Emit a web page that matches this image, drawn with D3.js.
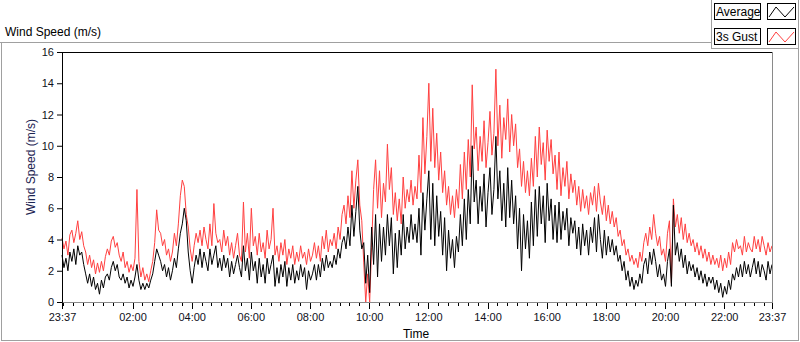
<!DOCTYPE html>
<html>
<head>
<meta charset="utf-8">
<script src="https://cdn.jsdelivr.net/npm/d3@7"></script>
<style>
  body { margin: 0; background: #fff; }
  svg { display: block; font-family: "Liberation Sans", Arial, sans-serif; }
</style>
</head>
<body>
<svg id="chart" width="800" height="342"></svg>
<script>
// samples every 4 minutes from 23:37 to 23:37 next day
const startTime = new Date(2020, 0, 1, 23, 37)
const stepMinutes = 4

const gust = [
  4.1, 3.4, 3.9, 3.0, 4.3, 4.6, 3.8, 4.4, 5.2, 4.0,
  4.5, 3.6, 3.2, 2.4, 3.0, 2.2, 2.7, 1.8, 2.5, 1.9,
  2.6, 2.0, 2.9, 3.4, 3.0, 3.9, 4.2, 3.5, 3.8, 3.0,
  2.6, 3.2, 2.2, 2.6, 1.9, 2.4, 2.0, 2.8, 7.2, 2.6,
  1.6, 2.2, 1.4, 1.8, 1.3, 2.0, 2.6, 3.8, 5.9, 4.6,
  4.4, 3.6, 4.0, 3.0, 3.4, 2.6, 3.2, 4.4, 3.6, 5.0,
  6.8, 7.8, 7.4, 5.6, 4.8, 3.4, 2.6, 3.6, 4.4, 3.8,
  4.6, 3.6, 4.8, 4.0, 3.4, 5.0, 3.6, 6.3, 4.4, 3.8,
  4.0, 3.2, 4.6, 3.6, 4.2, 3.0, 3.8, 2.8, 3.6, 4.4,
  3.0, 2.6, 6.4, 3.2, 4.4, 2.8, 6.0, 3.6, 4.2, 3.0,
  4.4, 3.2, 3.8, 2.8, 4.6, 3.4, 4.0, 6.0, 3.0, 3.6,
  2.6, 3.8, 3.0, 4.0, 2.4, 3.4, 2.8, 3.6, 2.4, 3.2,
  2.6, 3.6, 2.8, 3.2, 2.4, 3.4, 2.6, 3.0, 3.8, 2.8,
  3.6, 2.6, 4.2, 3.4, 4.6, 3.2, 4.0, 3.6, 4.4, 3.4,
  4.8, 4.0, 5.6, 6.2, 5.0, 6.8, 5.4, 8.4, 6.0, 7.8,
  9.1, 6.2, 5.2, 2.5, 0.0, 1.8, 0.0, 3.5, 7.2, 9.1,
  6.0, 8.4, 5.4, 7.6, 6.4, 10.1, 7.2, 8.6, 5.6, 7.0,
  5.2, 6.6, 5.0, 8.0, 6.0, 7.2, 6.4, 7.8, 6.2, 7.4,
  6.6, 9.4, 7.0, 11.8, 8.2, 10.6, 14.0, 9.0, 12.4, 8.6,
  10.8, 7.8, 9.6, 7.0, 8.4, 6.2, 7.4, 5.6, 6.8, 5.4,
  7.2, 6.0, 8.8, 6.6, 9.6, 7.2, 10.4, 8.0, 13.9, 9.8,
  11.2, 8.4, 10.6, 9.0, 11.6, 8.6, 10.2, 12.2, 9.4, 10.8,
  14.9, 10.0, 12.6, 9.2, 11.8, 10.4, 13.0, 9.6, 12.0, 10.0,
  11.4, 8.6, 9.8, 7.4, 9.0, 7.0, 8.4, 6.8, 9.2, 7.4,
  10.6, 8.0, 11.2, 8.8, 10.2, 7.8, 11.0, 9.0, 10.4, 8.2,
  9.4, 7.2, 9.6, 6.8, 8.6, 7.4, 9.0, 6.6, 8.2, 7.0,
  7.8, 6.2, 7.4, 5.8, 7.2, 6.0, 6.8, 5.6, 7.0, 6.2,
  7.4, 5.8, 7.6, 6.4, 5.6, 6.8, 5.2, 6.2, 5.0, 5.8,
  4.8, 5.4, 4.2, 4.6, 3.6, 4.0, 3.0, 3.4, 2.6, 3.0,
  2.4, 2.8, 2.2, 3.2, 2.6, 3.8, 4.4, 3.6, 4.8, 4.0,
  5.6, 4.4, 3.6, 4.2, 3.0, 3.4, 2.6, 4.4, 5.2, 1.2,
  6.6, 4.8, 5.6, 4.4, 5.4, 4.0, 5.0, 3.8, 4.4, 3.6,
  4.0, 3.2, 3.8, 3.0, 3.6, 2.8, 3.4, 2.6, 3.2, 2.4,
  3.0, 2.4, 2.8, 2.2, 3.0, 2.0, 2.8, 2.2, 3.2, 2.4,
  3.8, 3.2, 4.0, 3.4, 3.6, 3.0, 4.2, 3.2, 3.8, 3.4,
  3.2, 4.2, 3.4, 4.0, 3.2, 4.2, 3.6, 3.0, 3.8, 3.2,
  3.6
]

const average = [
  3.0, 2.2, 2.8, 2.0, 3.2, 2.6, 3.4, 2.4, 3.6, 3.0,
  3.2, 2.4, 1.8, 1.2, 1.8, 1.0, 1.6, 0.8, 1.2, 0.5,
  1.4, 0.9, 1.6, 1.8, 1.4, 2.2, 2.6, 2.0, 2.4, 1.6,
  1.4, 1.8, 1.2, 1.6, 0.9, 1.4, 1.0, 1.6, 2.4, 1.4,
  0.8, 1.2, 0.8, 1.2, 0.9, 1.4, 1.8, 2.6, 3.4, 3.0,
  2.6, 2.0, 2.4, 1.6, 2.2, 1.4, 2.0, 2.8, 2.2, 3.4,
  4.4, 5.0, 6.0, 5.2, 3.2, 2.0, 1.2, 2.2, 3.0, 2.4,
  3.4, 2.2, 3.2, 2.6, 2.0, 3.4, 2.4, 3.0, 3.6, 2.2,
  2.8, 2.0, 3.0, 2.2, 2.8, 1.6, 2.6, 1.8, 2.4, 3.0,
  2.2, 1.6, 3.6, 2.0, 2.8, 1.4, 3.2, 2.0, 2.6, 1.2,
  2.8, 1.6, 2.4, 1.2, 2.8, 1.8, 2.4, 3.0, 1.0, 2.2,
  1.2, 2.4, 1.6, 2.6, 1.0, 2.2, 1.4, 2.4, 1.2, 2.0,
  1.4, 2.4, 1.6, 2.2, 0.8, 2.0, 1.4, 1.8, 2.4, 1.4,
  2.4, 1.6, 2.8, 2.0, 3.0, 2.2, 2.6, 2.2, 3.0, 2.4,
  3.4, 2.8, 3.8, 4.2, 3.4, 4.8, 3.6, 6.2, 4.2, 5.8,
  7.4, 4.6, 3.4, 3.8, 1.2, 3.0, 0.6, 4.8, 2.4, 5.6,
  1.6, 5.0, 2.6, 4.8, 3.0, 5.6, 3.6, 5.4, 1.8, 4.4,
  2.2, 4.6, 3.0, 5.6, 3.4, 4.8, 3.8, 5.6, 4.0, 5.0,
  3.8, 6.0, 3.0, 7.0, 4.6, 6.6, 8.4, 4.0, 7.6, 3.6,
  6.8, 4.2, 5.8, 3.0, 5.4, 2.0, 4.6, 2.8, 4.0, 2.2,
  4.2, 3.2, 5.6, 3.6, 6.6, 4.0, 7.2, 5.0, 10.0, 6.4,
  7.8, 5.0, 7.4, 5.8, 8.2, 4.8, 7.0, 8.6, 5.6, 7.2,
  10.6, 6.6, 8.4, 5.2, 7.6, 4.8, 8.6, 5.4, 7.8, 5.0,
  6.8, 3.4, 6.0, 2.0, 5.6, 3.4, 5.2, 2.8, 6.4, 3.6,
  7.2, 4.2, 7.4, 5.0, 6.8, 3.8, 7.6, 5.2, 6.6, 4.0,
  6.2, 3.8, 6.4, 4.0, 5.8, 4.6, 6.0, 3.6, 5.4, 4.4,
  5.2, 3.4, 4.8, 3.0, 5.0, 3.6, 4.6, 3.0, 4.8, 3.8,
  5.4, 3.2, 5.6, 4.0, 2.8, 4.6, 3.0, 4.2, 3.2, 4.0,
  3.0, 3.6, 2.6, 3.0, 2.0, 2.6, 1.4, 2.0, 1.0, 1.6,
  0.8, 1.4, 1.0, 1.8, 1.2, 2.4, 2.8, 1.8, 3.2, 2.4,
  3.4, 2.6, 1.6, 2.4, 1.4, 1.8, 1.0, 2.6, 3.4, 1.0,
  6.2, 3.0, 3.8, 2.6, 3.4, 2.2, 3.0, 1.8, 2.6, 2.0,
  2.4, 1.6, 2.2, 1.4, 2.0, 1.2, 1.8, 1.0, 1.6, 1.2,
  1.6, 0.8, 1.4, 0.6, 1.2, 0.3, 1.0, 0.5, 1.4, 0.8,
  1.8, 1.4, 2.2, 1.6, 2.4, 1.6, 2.6, 1.8, 2.4, 1.6,
  2.2, 2.8, 1.8, 2.6, 1.6, 2.4, 2.0, 1.4, 2.6, 1.8,
  2.4
]

const yTicks = [0, 2, 4, 6, 8, 10, 12, 14, 16]
const seriesNames = ["Average", "3s Gust"]
const seriesColors = ["#000000", "#ff4040"]

const svg = d3.select("#chart")
const plotLeft = 62, plotRight = 772, plotTop = 52, plotBottom = 302

const endTime = d3.timeMinute.offset(startTime, 24 * 60)
const times = gust.map((d, i) => d3.timeMinute.offset(startTime, i * stepMinutes))

const x = d3.scaleTime().domain([startTime, endTime]).range([plotLeft, plotRight])
const y = d3.scaleLinear().domain([0, 16]).range([plotBottom, plotTop])

// outer frame
const frame = svg.append("g").attr("stroke", "#a0a0a0").attr("shape-rendering", "crispEdges")
frame.append("line").attr("x1", 0).attr("x2", 712).attr("y1", 42.5).attr("y2", 42.5)
frame.append("line").attr("x1", 1.5).attr("x2", 1.5).attr("y1", 42).attr("y2", 341)
frame.append("line").attr("x1", 1).attr("x2", 798).attr("y1", 340.5).attr("y2", 340.5)
frame.append("line").attr("x1", 798.5).attr("x2", 798.5).attr("y1", 0).attr("y2", 341)
frame.append("line").attr("x1", 711.5).attr("x2", 711.5).attr("y1", 0).attr("y2", 49)
frame.append("line").attr("x1", 711).attr("x2", 799).attr("y1", 48.5).attr("y2", 48.5)

svg.append("text")
  .attr("x", 5).attr("y", 36)
  .attr("font-size", 12)
  .text("Wind Speed (m/s)")

// plot background
svg.append("rect")
  .attr("x", plotLeft).attr("y", plotTop)
  .attr("width", plotRight - plotLeft).attr("height", plotBottom - plotTop)
  .attr("fill", "#fff")

// series
const line = d3.line()
  .x((d, i) => x(times[i]))
  .y(d => y(d))

svg.append("path")
  .datum(gust)
  .attr("fill", "none")
  .attr("stroke", seriesColors[1])
  .attr("stroke-width", 1)
  .attr("d", line)

svg.append("path")
  .datum(average)
  .attr("fill", "none")
  .attr("stroke", seriesColors[0])
  .attr("stroke-width", 1)
  .attr("d", line)

// plot border: dark top/left, grey bottom/right
const border = svg.append("g").attr("shape-rendering", "crispEdges")
border.append("line").attr("x1", plotLeft).attr("x2", plotRight + 1).attr("y1", plotTop + 0.5).attr("y2", plotTop + 0.5).attr("stroke", "#000")
border.append("line").attr("x1", plotRight + 0.5).attr("x2", plotRight + 0.5).attr("y1", plotTop).attr("y2", plotBottom + 1).attr("stroke", "#8a8a8a")
border.append("line").attr("x1", plotLeft).attr("x2", plotRight + 1).attr("y1", plotBottom + 0.5).attr("y2", plotBottom + 0.5).attr("stroke", "#8a8a8a")

// y axis
const yAxis = svg.append("g")
  .attr("transform", `translate(${plotLeft},0)`)
  .call(d3.axisLeft(y).tickValues(yTicks).tickSize(5).tickPadding(3))
yAxis.select(".domain").attr("stroke", "#000")
yAxis.selectAll("text").attr("font-size", 11).attr("font-family", "Liberation Sans, Arial, sans-serif").attr("fill", "#101020")

// x axis: minor ticks every 20 min, major every 2 h (no midnight) plus the end points
const minorTicks = d3.timeMinute.every(20).range(d3.timeMinute.offset(startTime, 1), endTime)
const evenHours = d3.timeHour.every(2).range(d3.timeMinute.offset(startTime, 1), endTime)
  .filter(d => d.getHours() !== 0)
const majorTicks = [startTime].concat(evenHours, [endTime])
const fmt = d3.timeFormat("%H:%M")

const xAxisG = svg.append("g").attr("transform", `translate(0,${plotBottom + 1})`)
xAxisG.append("g")
  .call(d3.axisBottom(x).tickValues(minorTicks).tickSize(3).tickFormat(""))
  .call(g => g.select(".domain").remove())
xAxisG.append("g")
  .call(d3.axisBottom(x).tickValues(majorTicks).tickSize(6).tickPadding(4).tickFormat(fmt))
  .call(g => g.select(".domain").remove())
xAxisG.selectAll("text").attr("font-size", 11).attr("font-family", "Liberation Sans, Arial, sans-serif").attr("fill", "#101020")
xAxisG.selectAll("line").attr("shape-rendering", "crispEdges")

svg.append("text")
  .attr("x", 416).attr("y", 338)
  .attr("text-anchor", "middle")
  .attr("font-size", 12)
  .text("Time")

svg.append("text")
  .attr("transform", "translate(35,167) rotate(-90)")
  .attr("text-anchor", "middle")
  .attr("font-size", 12)
  .attr("fill", "#1c2452")
  .text("Wind Speed (m/s)")

// legend
const legend = svg.append("g").selectAll("g")
  .data(seriesNames)
  .join("g")
  .attr("transform", (d, i) => `translate(0,${i * 25})`)

legend.append("rect")
  .attr("x", 714.5).attr("y", 3.5).attr("width", 46).attr("height", 16)
  .attr("fill", "#fcfcfc").attr("stroke", "#000").attr("shape-rendering", "crispEdges")
legend.append("text")
  .attr("x", 716).attr("y", 16)
  .attr("font-size", 12)
  .text(d => d)
legend.append("rect")
  .attr("x", 767.5).attr("y", 3.5).attr("width", 28).attr("height", 16)
  .attr("fill", "#fff").attr("stroke", "#000").attr("shape-rendering", "crispEdges")
legend.append("path")
  .attr("d", "M769,17L776,7L785,17L794,7")
  .attr("fill", "none")
  .attr("stroke", (d, i) => seriesColors[i])
</script>
</body>
</html>
